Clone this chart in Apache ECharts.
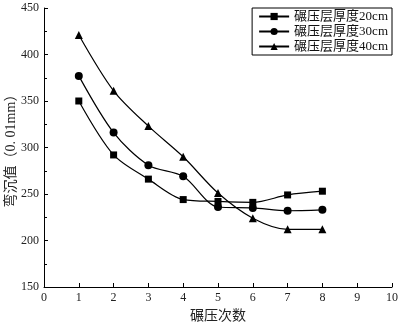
<!DOCTYPE html>
<html>
<head>
<meta charset="utf-8">
<script src="https://cdn.jsdelivr.net/npm/echarts@6/dist/echarts.min.js"></script>
<style>
  html, body { margin: 0; padding: 0; background: #fff; }
  #chart { width: 401px; height: 327px; }
</style>
</head>
<body>
<div id="chart"></div>
<script>
  // 碾压次数
  var passes = [1, 2, 3, 4, 5, 6, 7, 8]
  var d20 = [350, 292, 266, 244, 242, 241, 249, 253]
  var d30 = [377, 316, 281, 269, 236, 235, 232, 233]
  var d40 = [421, 361, 323, 290, 251, 224, 212, 212]
  var seriesNames = ['碾压层厚度20cm', '碾压层厚度30cm', '碾压层厚度40cm']
  var symbols = ['rect', 'circle', 'triangle']

  var font = "'Liberation Serif', 'Noto Sans CJK SC', serif"
  var chart = echarts.init(document.getElementById('chart'))

  function pairs(arr) {
    return arr.map(function (v, i) {
      return [passes[i], v]
    })
  }

  var series = [d20, d30, d40].map(function (arr, i) {
    return {
      name: seriesNames[i],
      type: 'line',
      data: pairs(arr),
      smooth: 0.3,
      symbol: symbols[i],
      symbolSize: i === 0 ? 7 : 8,
      itemStyle: { color: '#000' },
      lineStyle: { color: '#000', width: 1.2 },
    }
  })

  chart.setOption({
    animation: false,
    textStyle: { fontFamily: font },
    grid: {
      left: 44,
      right: 9,
      top: 8,
      bottom: 40,
      outerBoundsMode: 'none',
    },
    legend: {
      orient: 'vertical',
      right: 9,
      top: 8,
      data: seriesNames,
      borderColor: '#000',
      borderWidth: 1,
      padding: [2, 4, 2, 6],
      itemGap: 2,
      itemWidth: 30,
      itemHeight: 9,
      textStyle: { color: '#111', fontSize: 13, fontFamily: font },
    },
    xAxis: {
      type: 'value',
      min: 0,
      max: 10,
      interval: 1,
      name: '碾压次数',
      nameLocation: 'middle',
      nameGap: 22,
      nameMoveOverlap: false,
      nameTextStyle: { color: '#222', fontSize: 14, fontFamily: font },
      axisLine: { lineStyle: { color: '#000', width: 1 } },
      axisTick: { inside: true, length: 4, lineStyle: { color: '#000' } },
      axisLabel: { color: '#222', fontSize: 12, margin: 5, fontFamily: font },
      splitLine: { show: false },
    },
    yAxis: {
      type: 'value',
      min: 150,
      max: 450,
      interval: 50,
      name: '弯沉值（0. 01mm）',
      nameLocation: 'middle',
      nameGap: 26,
      nameMoveOverlap: false,
      nameTextStyle: { color: '#222', fontSize: 14, fontFamily: font },
      axisLine: { show: true, lineStyle: { color: '#000', width: 1 } },
      axisTick: { inside: true, length: 4, lineStyle: { color: '#000' } },
      minorTick: { show: true, splitNumber: 2, length: 3, lineStyle: { color: '#000' } },
      axisLabel: { color: '#222', fontSize: 12, margin: 5, fontFamily: font },
      splitLine: { show: false },
    },
    series: series,
  })
</script>
</body>
</html>
